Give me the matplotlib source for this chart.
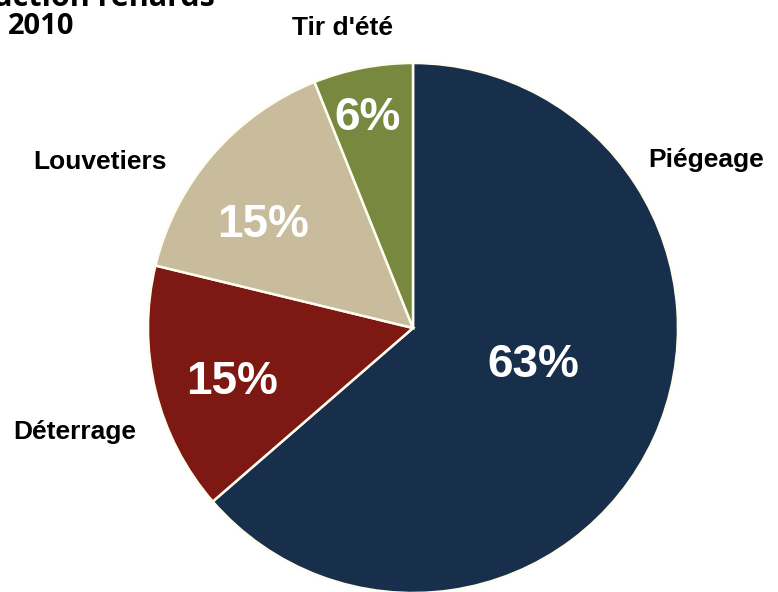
import matplotlib
matplotlib.use("Agg")
import matplotlib.pyplot as plt
from matplotlib import font_manager

# Destruction renards 2010 - share per method
categories = ["Piégeage", "Déterrage", "Louvetiers", "Tir d'été"]
values = [63, 15, 15, 6]
pct_labels = ["63%", "15%", "15%", "6%"]
colors = ["#172F4B", "#7D1812", "#C8BC9D", "#78893F"]

W, H = 778, 592

names = {f.name for f in font_manager.fontManager.ttflist}
narrow = "Liberation Sans Narrow" if "Liberation Sans Narrow" in names else "Liberation Sans"

fig = plt.figure(figsize=(W / 100, H / 100), dpi=100)
ax = fig.add_axes([0, 0, 1, 1])

cx, cy, r = 413, H - 328, 265
ax.pie(values, colors=colors, startangle=90, counterclock=False,
       center=(cx, cy), radius=r, frame=True,
       wedgeprops=dict(edgecolor="#FFFDF0", linewidth=1.8))
ax.set_xlim(0, W)
ax.set_ylim(0, H)
ax.set_aspect("equal")
ax.axis("off")

# percentage labels inside the slices (pixel positions from top-left)
pct_pos = [(533, 365), (232, 382), (263, 225), (368, 118)]
for txt, (px, py) in zip(pct_labels, pct_pos):
    ax.text(px, H - py, txt, ha="center", va="center", color="white",
            fontsize=33, fontweight="bold", family=narrow)

# category labels outside
cat_pos = [(706, 160), (75, 432), (100, 162), (343, 28)]
for txt, (px, py) in zip(categories, cat_pos):
    ax.text(px, H - py, txt, ha="center", va="center", color="black",
            fontsize=19, fontweight="bold", family=narrow)

# title, partly cut off at the top as in the source image
ax.text(215, H - 6, "Destruction renards", ha="right", va="baseline",
        fontsize=22, fontweight="bold", family="Open Sans")
ax.text(8, H - 27, "2010", ha="left", va="center",
        fontsize=21, fontweight="bold", family="Open Sans")

fig.savefig("out.png", dpi=100)
